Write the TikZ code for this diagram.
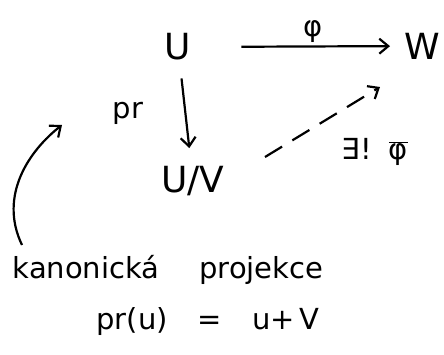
\documentclass[tikz,border=0pt]{standalone}
\usepackage{fontspec}
\setmainfont{DejaVu Sans}
\usetikzlibrary{arrows.meta}
\begin{document}
\begin{tikzpicture}[x=1pt,y=-1pt,
  lbl/.style={inner sep=0pt, font=\fontsize{36}{36}\selectfont},
  small/.style={inner sep=0pt, font=\fontsize{29}{29}\selectfont},
  conn/.style={line width=2.2pt, -{Straight Barb[length=9pt,width=15pt]}}]
\useasboundingbox (0,0) rectangle (444,354);
\node[lbl] (U) at (178,47) {U};
\node[lbl] (W) at (422,46) {W};
\node[lbl] (UV) at (193,181) {U/V};
\node[small] (phi) at (313,32) {φ};
\node[small] (pr) at (128,113) {pr};
\node[small] (ex) at (375,152) {∃!\, $\overline{\mbox{φ}}$};
\node[small] (kan) at (168,270) {kanonická\hspace{40pt}projekce};
\node[small] (prdef) at (208,322) {pr(u)\hspace{30pt}=\hspace{30pt}u+\,V};
\draw[conn, shorten <=50pt, shorten >=14pt] (U) -- (W);
\draw[conn, shorten <=18pt, shorten >=18pt] (U) -- (UV);
\coordinate (d1) at (265,157);
\coordinate (d2) at (380,87);
\draw[conn, dash pattern=on 20pt off 12pt] (d1) -- (d2);
\coordinate (c1) at (22,245);
\coordinate (c2) at (62,125);
\draw[conn] (c1) .. controls (-2,195) and (30,150) .. (c2);
\end{tikzpicture}
\end{document}
